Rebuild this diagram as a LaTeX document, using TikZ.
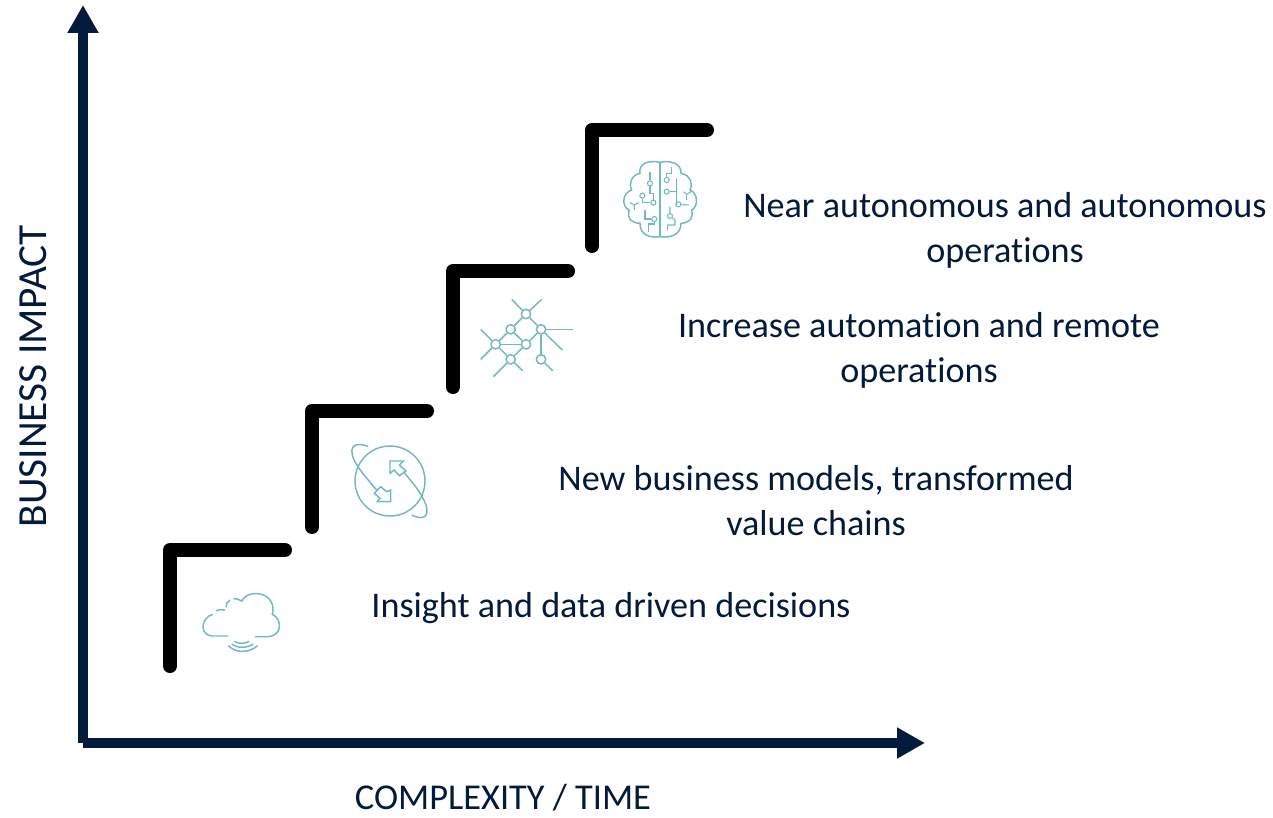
\documentclass[tikz,border=0pt]{standalone}
\usepackage{fontspec}
\setmainfont[Ligatures=NoCommon]{Carlito}
\usetikzlibrary{arrows.meta}
\definecolor{navyaxis}{HTML}{021A3C}
\definecolor{icontint}{HTML}{6FB8C4}
\tikzset{
  axisline/.style = {draw = navyaxis, line width = 7.5pt, -{Triangle[length = 21pt, width = 22pt]}},
  stairline/.style = {draw = black, line width = 10.5pt, line cap = round, line join = round},
  caption/.style = {text = navyaxis, font = \fontsize{27.1}{33.7}\selectfont, align = center, inner sep = 0pt},
  iconline/.style = {draw = icontint, line width = 1.1pt},
  iconthin/.style = {draw = icontint, line width = 0.8pt},
  netnode/.style = {circle, draw = icontint, line width = 1.1pt, minimum size = 7pt, inner sep = 0pt},
  brainnode/.style = {circle, draw = icontint, line width = 0.8pt, minimum size = 3.8pt, inner sep = 0pt}
}
\begin{document}
\begin{tikzpicture}[x = 0.75pt, y = -0.75pt]
\useasboundingbox (0,0) rectangle (1273,817);
\coordinate (ytip) at (83,5);
\coordinate (origin) at (83,743);
\coordinate (xtip) at (925,743);
\draw [axisline] (origin) -- (ytip);
\draw [axisline] (origin) -- (xtip);
\node [caption, rotate = 90, font = \fontsize{31}{33.7}\selectfont] (yaxislabel) at (33,376) {BUSINESS IMPACT};
\node [caption, font = \fontsize{27.3}{33.7}\selectfont] (xaxislabel) at (503,798) {COMPLEXITY / TIME};
\foreach \xs/\ys [count = \n] in {170/550,312/411,453/271,592/130}
  \draw [stairline] (\xs,\ys+116) -- (\xs,\ys) -- (\xs+115,\ys);
\node [caption] (insight) at (611,608) {Insight and data driven decisions};
\node [caption] (models) at (816,501) {New business models, transformed\\value chains};
\node [caption] (automation) at (919,350) {Increase automation and remote\\operations};
\node [caption] (autonomous) at (1005,230) {Near autonomous and autonomous\\operations};
% cloud
\begin{scope}[shift = {(190,580)}, x = 0.25pt, y = -0.25pt]
\draw [iconline] (115,168) -- (65,168) .. controls (30,165) and (30,115) .. (68,103);
\draw [iconline] (78,92) .. controls (85,88) and (95,88) .. (105,90);
\draw [iconline] (108,82) .. controls (108,72) and (112,64) .. (120,60);
\draw [iconline] (130,56) .. controls (138,55) and (148,58) .. (155,63) .. controls (165,45) and (185,38) .. (205,41) .. controls (240,45) and (255,75) .. (247,103) .. controls (275,115) and (280,165) .. (235,170) -- (195,170);
\draw [iconline] (133,184) .. controls (145,192) and (165,192) .. (178,184);
\draw [iconline] (125,192) .. controls (142,205) and (170,205) .. (190,192);
\draw [iconline] (115,197) .. controls (138,220) and (175,220) .. (203,197);
\end{scope}
% orbit
\begin{scope}[shift = {(340,435)}, x = 0.25pt, y = -0.25pt]
\draw [iconline] (150,138) circle [radius = 105];
\draw [iconline] (85,35) .. controls (50,20) and (25,30) .. (40,70) .. controls (50,95) and (80,130) .. (110,165);
\draw [iconline] (152,200) -- (112,200) -- (120,190) -- (103,175) -- (122,155) -- (140,170) -- (152,165) -- cycle;
\draw [iconline] (150,78) -- (190,78) -- (178,90) -- (198,108) -- (178,122) -- (162,105) -- (150,115) -- cycle;
\draw [iconline] (190,110) .. controls (220,145) and (245,175) .. (258,210) .. controls (270,250) and (245,255) .. (215,240);
\end{scope}
% network
\begin{scope}[shift = {(470,290)}, x = 0.25pt, y = -0.25pt]
\foreach \name/\xn/\yn in {nA/168/72,nB/122/118,nC/213/118,nD/77/163,nE/168/163,nF/122/208,nG/213/208}
  \node [netnode] (\name) at (\xn,\yn) {};
\foreach \a/\b in {nA/nB,nA/nC,nB/nD,nB/nE,nC/nE,nD/nE,nD/nF,nE/nF,nC/nG}
  \draw [iconline] (\a) -- (\b);
\foreach \a/\xe/\ye in {nA/125/28,nA/215/28,nC/308/118,nC/277/180,nD/32/118,nD/32/208,nF/70/260,nF/158/242,nG/248/242}
  \draw [iconline] (\a) -- (\xe,\ye);
\end{scope}
% brain
\begin{scope}[shift = {(615,155)}, x = 0.25pt, y = -0.25pt]
\draw [iconthin] (135,22) -- (135,245);
\draw [iconline] (135,22) .. controls (100,15) and (70,25) .. (75,55) .. controls (50,60) and (40,85) .. (50,105) .. controls (20,115) and (20,155) .. (42,165) .. controls (35,195) and (55,205) .. (75,205) .. controls (75,240) and (105,250) .. (135,245);
\draw [iconline] (135,22) .. controls (165,15) and (200,25) .. (198,55) .. controls (225,60) and (235,85) .. (225,105) .. controls (250,115) and (250,155) .. (230,165) .. controls (238,195) and (215,205) .. (198,205) .. controls (198,240) and (165,250) .. (135,245);
\foreach \name/\xn/\yn in {bA/105/85,bB/82/122,bC/115/143,bD/118/192,bE/155/75,bF/155/110,bG/190/148,bH/165/183}
  \node [brainnode] (\name) at (\xn,\yn) {};
\draw [iconthin] (105,52) -- (bA) -- (105,115) -- (115,115) -- (bC) -- (82,143) -- (bB);
\draw [iconthin] (58,165) -- (58,150) -- (45,143) (58,150) -- (72,143);
\draw [iconthin] (90,165) -- (90,192) -- (bD) -- (118,207) -- (100,207) -- (100,230);
\draw [iconthin] (170,35) -- (170,55) -- (155,55) -- (bE);
\draw [iconthin] (bF) -- (185,110) -- (185,70) (185,110) -- (185,148) -- (bG) -- (222,150);
\draw [iconthin] (215,135) -- (215,118) -- (205,110) (215,118) -- (228,110);
\draw [iconthin] (165,155) -- (bH) -- (180,195) -- (180,210) -- (158,210) -- (158,225);
\end{scope}
\end{tikzpicture}
\end{document}
